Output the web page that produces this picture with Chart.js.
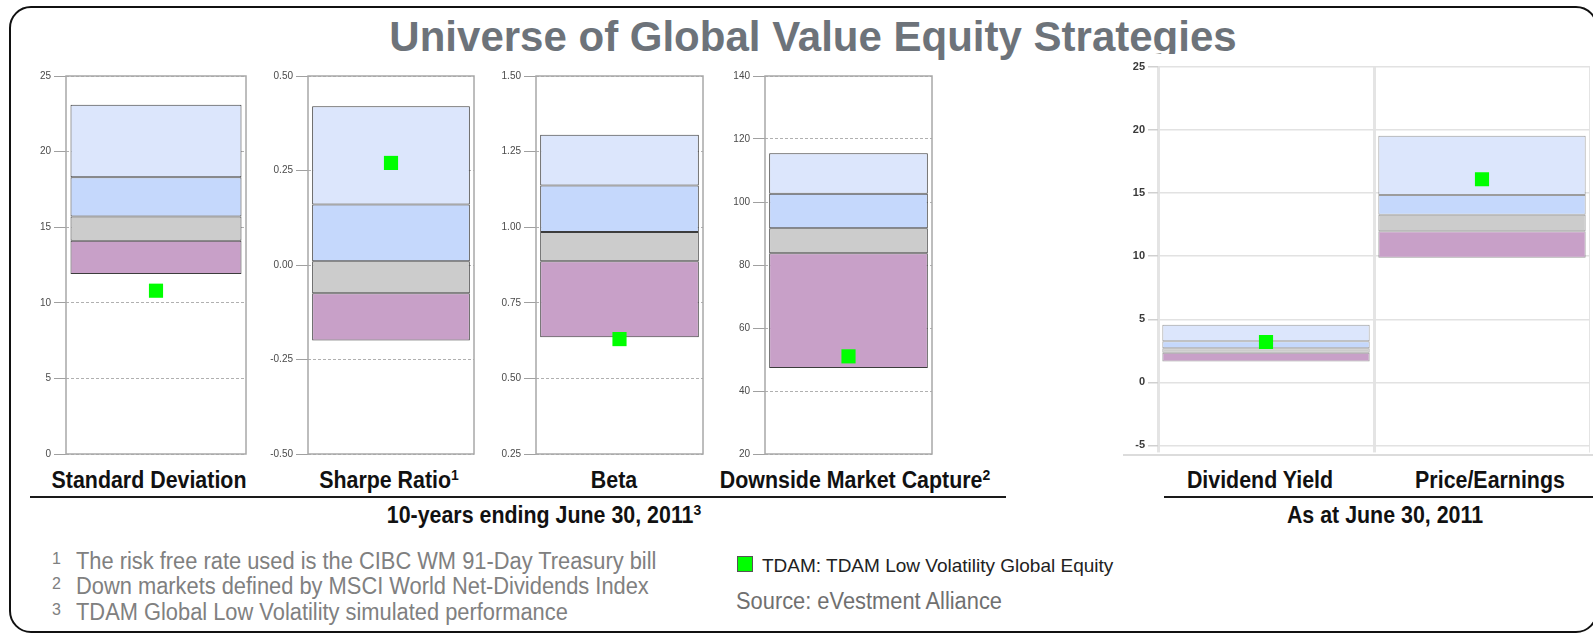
<!DOCTYPE html>
<html>
<head>
<meta charset="utf-8">
<script src="https://cdn.jsdelivr.net/npm/chart.js@4.4.1/dist/chart.umd.min.js"></script>
<style>
  body { margin:0; width:1593px; height:635px; overflow:hidden; background:#fff; position:relative;
         font-family: Arial, "Liberation Sans", sans-serif; }
  canvas { position:absolute; }
  .abs { position:absolute; white-space:nowrap; }
  #frame { left:9px; top:6px; width:1589px; height:627px; box-sizing:border-box;
           border:2px solid #111; border-radius:22px; }
  #title { left:813px; top:16px; line-height:42px; font-size:42px; font-weight:bold; color:#6d737a;
           transform:translateX(-50%); }
  .cond { font-family:"Liberation Sans",Arial,sans-serif; font-size:23px; line-height:23px; }
  .lbl { font-weight:bold; color:#111; transform-origin:center; transform:translateX(-50%) scaleX(0.93); }
  .note { color:#808080; transform-origin:left; transform:scaleX(0.95); }
  .noteNum { color:#808080; font-size:16px; line-height:16px; }
  sup { font-size:15px; line-height:0; position:relative; top:-8px; vertical-align:baseline; }
  .rule { height:2px; background:#1a1a1a; }
  #rightChart { background:#fff; }
</style>
</head>
<body>
<div id="frame" class="abs"></div>
<div id="title" class="abs">Universe of Global Value Equity Strategies</div>

<canvas id="risk0" width="227" height="396" style="left:21px;top:67px"></canvas>
<canvas id="risk1" width="213" height="396" style="left:263px;top:67px"></canvas>
<canvas id="risk2" width="214" height="396" style="left:491px;top:67px"></canvas>
<canvas id="risk3" width="214" height="396" style="left:720px;top:67px"></canvas>
<canvas id="rightChart" width="490" height="401" style="left:1100px;top:54px"></canvas>
<div class="abs" style="left:1123px;top:454px;width:470px;height:2px;background:#dcdcdc"></div>

<div id="riskNames"></div>
<div id="valNames"></div>
<div class="abs rule" style="left:30px;top:496px;width:976px"></div>
<div class="abs rule" style="left:1164px;top:496px;width:429px"></div>
<div class="abs cond lbl" style="left:544px;top:504px">10-years ending June 30, 2011<sup>3</sup></div>
<div class="abs cond lbl" style="left:1385px;top:504px">As at June 30, 2011</div>

<div class="abs noteNum" style="left:52px;top:551px">1</div>
<div class="abs cond note" style="left:76px;top:550px">The risk free rate used is the CIBC WM 91-Day Treasury bill</div>
<div class="abs noteNum" style="left:52px;top:576px">2</div>
<div class="abs cond note" style="left:76px;top:575px">Down markets defined by MSCI World Net-Dividends Index</div>
<div class="abs noteNum" style="left:52px;top:602px">3</div>
<div class="abs cond note" style="left:76px;top:601px">TDAM Global Low Volatility simulated performance</div>

<div class="abs" style="left:737px;top:556px;width:14px;height:14px;background:#00ff00;border:1px solid #555"></div>
<div class="abs" style="left:762px;top:556px;font-size:19px;line-height:19px;color:#222">TDAM: TDAM Low Volatility Global Equity</div>
<div class="abs cond note" style="left:736px;top:590px;color:#707070">Source: eVestment Alliance</div>

<script>
// risk measures, 10 years ending June 30, 2011
const riskLabels = ['Standard Deviation', 'Sharpe Ratio', 'Beta', 'Downside Market Capture'];
const riskFootnote = ['', '1', '', '2'];
const riskTop    = [23.1, 0.42, 1.306, 115.5];   // 5th percentile
const riskQ1     = [18.3, 0.16, 1.138, 102.6];   // 25th
const riskMedian = [15.7, 0.01, 0.984, 91.7];
const riskQ3     = [14.1, -0.075, 0.887, 83.7];  // 75th
const riskBottom = [11.9, -0.20, 0.636, 47.3];   // 95th
const riskTdam   = [10.8, 0.27, 0.63, 51];
const riskAxisMin  = [0, -0.5, 0.25, 20];
const riskAxisMax  = [25, 0.5, 1.5, 140];
const riskAxisStep = [5, 0.25, 0.25, 20];
const riskAxisDecimals = [0, 2, 2, 0];

// valuation, as at June 30, 2011
const valLabels = ['Dividend Yield', 'Price/Earnings'];
const valTop    = [4.57, 19.55];
const valQ1     = [3.25, 14.86];
const valMedian = [2.7, 13.29];
const valQ3     = [2.34, 11.98];
const valBottom = [1.66, 9.88];
const valTdam   = [3.2, 16.1];
const valAxisMin = -5;
const valAxisMax = 25;
const valAxisStep = 5;

const bandColors = ['#dce6fc', '#c5d8fc', '#cccccc', '#c8a0c8'];
const riskLabelCenters = [149, 389, 614, 855];
const valLabelCenters = [1260, 1490];

Chart.defaults.font.family = 'Arial, "Liberation Sans", sans-serif';

// draws the box round the plot area
const framePlugin = {
  id: 'frame',
  beforeDatasetsDraw(chart, args, opts) {
    if (!opts.color) return;
    const a = chart.chartArea;
    const ctx = chart.ctx;
    ctx.save();
    ctx.strokeStyle = opts.color;
    ctx.lineWidth = opts.width;
    ctx.strokeRect(a.left, a.top, a.right - a.left, a.bottom - a.top);
    ctx.restore();
  }
};

// one floating bar per band, all sharing the category slot
function bandSets(ranges, border, barPct) {
  return ranges.map((r, k) => ({
    data: r,
    backgroundColor: bandColors[k],
    borderColor: border,
    borderWidth: 1,
    borderSkipped: false,
    grouped: false,
    barPercentage: barPct,
    categoryPercentage: 1,
    order: 1
  }));
}

function pointSet(values) {
  return {
    type: 'line',
    data: values,
    showLine: false,
    pointStyle: 'rect',
    pointRadius: 10,
    pointBorderWidth: 0,
    pointBackgroundColor: '#00ff00',
    order: 0
  };
}

for (let i = 0; i < riskLabels.length; i++) {
  const ranges = [
    [[riskQ1[i], riskTop[i]]],
    [[riskMedian[i], riskQ1[i]]],
    [[riskQ3[i], riskMedian[i]]],
    [[riskBottom[i], riskQ3[i]]]
  ];
  new Chart(document.getElementById('risk' + i), {
    type: 'bar',
    data: {
      labels: [riskLabels[i]],
      datasets: [pointSet([riskTdam[i]])].concat(bandSets(ranges, '#3c3c3c', 0.95))
    },
    plugins: [framePlugin],
    options: {
      responsive: false,
      animation: false,
      devicePixelRatio: 1,
      layout: { autoPadding: false, padding: { top: 8, bottom: 8, left: 0, right: 2 } },
      plugins: {
        legend: { display: false },
        tooltip: { enabled: false },
        frame: { color: '#a8a8a8', width: 1.5 }
      },
      scales: {
        x: { display: false },
        y: {
          min: riskAxisMin[i],
          max: riskAxisMax[i],
          afterFit: (s) => { s.width = 45; },
          ticks: {
            stepSize: riskAxisStep[i],
            callback: (v) => Number(v).toFixed(riskAxisDecimals[i]),
            color: '#4a4a4a',
            font: { size: 10 },
            padding: 3
          },
          grid: { color: '#b0b0b0', tickColor: '#a0a0a0', tickLength: 12, lineWidth: 1 },
          border: { display: false, dash: [3, 2] }
        }
      }
    }
  });
}

const valRanges = [
  valLabels.map((_, j) => [valQ1[j], valTop[j]]),
  valLabels.map((_, j) => [valMedian[j], valQ1[j]]),
  valLabels.map((_, j) => [valQ3[j], valMedian[j]]),
  valLabels.map((_, j) => [valBottom[j], valQ3[j]])
];

new Chart(document.getElementById('rightChart'), {
  type: 'bar',
  data: {
    labels: valLabels,
    datasets: [pointSet(valTdam)].concat(bandSets(valRanges, 'rgba(90,90,90,0.6)', 0.96))
  },
  options: {
    responsive: false,
    animation: false,
    devicePixelRatio: 1,
    layout: { autoPadding: false, padding: { top: 13, bottom: 0, left: 0, right: 0 } },
    plugins: { legend: { display: false }, tooltip: { enabled: false } },
    scales: {
      x: {
        ticks: { display: false },
        grid: { color: '#e4e4e4', lineWidth: 3, tickLength: 7, tickColor: '#e4e4e4', tickWidth: 3, offset: true },
        border: { display: false }
      },
      y: {
        min: valAxisMin,
        max: valAxisMax,
        afterFit: (s) => { s.width = 58; },
        ticks: { stepSize: valAxisStep, color: '#3a3a3a', font: { size: 11, weight: 'bold' }, padding: 3 },
        grid: { color: '#e2e2e2', lineWidth: 1.5, tickColor: '#d0d0d0', tickLength: 10 },
        border: { display: false }
      }
    }
  }
});

// category labels under the panels
function addLabels(holder, labels, centers, notes) {
  const el = document.getElementById(holder);
  labels.forEach((txt, i) => {
    const d = document.createElement('div');
    d.className = 'abs cond lbl';
    d.style.left = centers[i] + 'px';
    d.style.top = '469px';
    d.innerHTML = txt + (notes && notes[i] ? '<sup>' + notes[i] + '</sup>' : '');
    el.appendChild(d);
  });
}
addLabels('riskNames', riskLabels, riskLabelCenters, riskFootnote);
addLabels('valNames', valLabels, valLabelCenters, null);
</script>
</body>
</html>
